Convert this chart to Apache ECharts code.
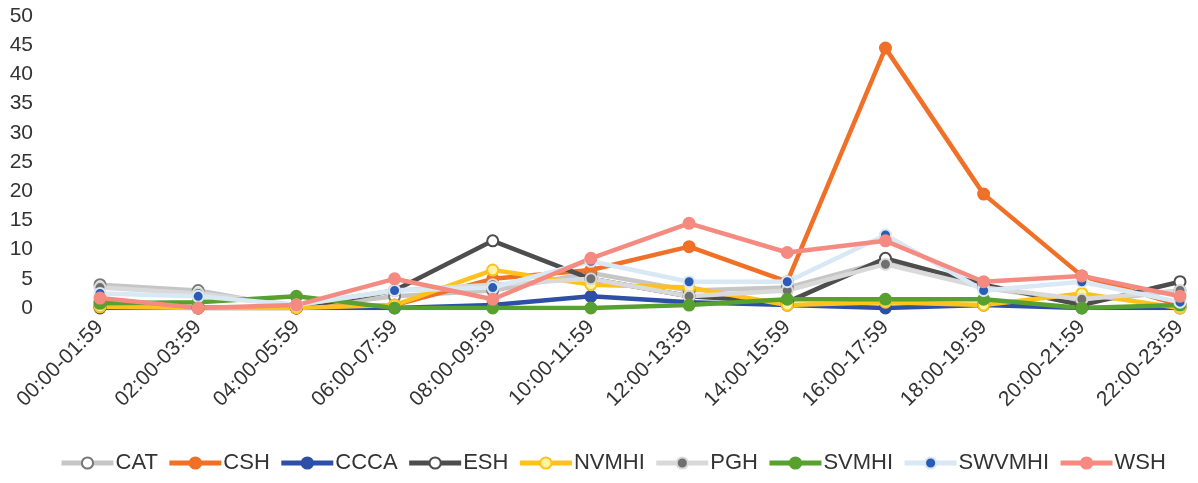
<!DOCTYPE html>
<html><head><meta charset="utf-8">
<script src="https://cdn.jsdelivr.net/npm/echarts@6/dist/echarts.min.js"></script>
<style>html,body{margin:0;padding:0;background:#fff}#c{width:1198px;height:483px}</style>
</head><body><div id="c"></div>
<script>
const categories = ['00:00-01:59','02:00-03:59','04:00-05:59','06:00-07:59','08:00-09:59','10:00-11:59','12:00-13:59','14:00-15:59','16:00-17:59','18:00-19:59','20:00-21:59','22:00-23:59'];
const yTicks = [0,5,10,15,20,25,30,35,40,45,50];
const CAT    = [4, 3, 0, 2, 3, 6, 3, 3.5, 8, 3.5, 1, 3];
const CSH    = [1, 0, 0, 0.5, 5, 6.5, 10.5, 4.5, 44.5, 19.5, 5.5, 0.5];
const CCCA   = [0.3, 0, 0, 0, 0.5, 2, 1, 0.5, 0, 0.5, 0, 0];
const ESH    = [0, 0, 0, 3, 11.5, 5, 2, 1, 8.5, 4, 0.5, 4.5];
const NVMHI  = [0.2, 0, 0, 0.5, 6.5, 4, 3.5, 0.5, 1, 0.5, 2.5, 0];
const PGH    = [3.5, 2.5, 0.5, 3, 4, 5, 2, 3, 7.5, 3.5, 1.5, 3];
const SVMHI  = [0.8, 1, 2, 0, 0, 0, 0.5, 1.5, 1.5, 1.5, 0, 0.5];
const SWVMHI = [2.5, 2, 0.5, 3, 3.5, 8, 4.5, 4.5, 12.5, 3, 4.5, 1];
const WSH    = [1.7, 0, 0.5, 5, 1.5, 8.5, 14.5, 9.5, 11.5, 4.5, 5.5, 2];

function s(name, data, line, sym, border, symbol){
  return {name, type:'line', data, symbol: symbol||'circle', symbolSize: 11,
    lineStyle:{color:line, width:4.5}, itemStyle:{color:sym, borderColor:border, borderWidth:2},
    emphasis:{disabled:true}};
}
const FONT = 'Liberation Sans, Arial, sans-serif';
const chart = echarts.init(document.getElementById('c'));
chart.setOption({
  animation:false,
  grid:{left:100, right:18, top:16, bottom:175},
  legend:{bottom:4, left:54, width:1144, itemWidth:52, itemHeight:14, itemGap:9,
    lineStyle:{width:5},
    textStyle:{fontSize:22, color:'#333', fontFamily:FONT, padding:[0,0,0,-3]}},
  xAxis:{type:'category', data:categories, boundaryGap:false,
    axisLine:{show:false}, axisTick:{show:false},
    axisLabel:{rotate:45, fontSize:21, color:'#333', margin:16, fontFamily:FONT}},
  yAxis:{type:'value', min:yTicks[0], max:yTicks[yTicks.length-1], interval:5,
    splitLine:{show:false}, axisLine:{show:false}, axisTick:{show:false},
    axisLabel:{fontSize:21, color:'#333', margin:67, fontFamily:FONT}},
  series:[
    s('CAT', CAT, '#c6c6c6', '#ffffff', '#777777', 'circle'),
    s('CSH', CSH, '#f07028', '#f07028', '#f07028'),
    s('CCCA', CCCA, '#2d4fa5', '#2d4fa5', '#2d4fa5'),
    s('ESH', ESH, '#4d4d4d', '#ffffff', '#4d4d4d'),
    s('NVMHI', NVMHI, '#ffc21a', '#fff3a8', '#ffc21a'),
    s('PGH', PGH, '#d9d9d9', '#6f6f6f', '#d9d9d9'),
    s('SVMHI', SVMHI, '#58a030', '#58a030', '#58a030'),
    s('SWVMHI', SWVMHI, '#d8e8f4', '#2b5bb5', '#d8e8f4'),
    s('WSH', WSH, '#f58a80', '#f58a80', '#f58a80')
  ]
});
</script></body></html>
